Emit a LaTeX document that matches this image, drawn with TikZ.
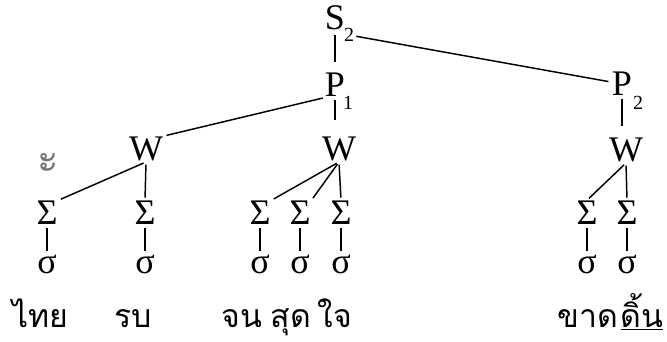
\documentclass[tikz,border=0pt]{standalone}
\usepackage{fontspec}
\setmainfont{Liberation Serif}
\newfontfamily\thaifont[Script=Thai]{Loma}
\usetikzlibrary{positioning}
\tikzset{
  tree label/.style={font=\fontsize{27}{29}\selectfont,inner sep=0.5pt},
  tree index/.style={font=\fontsize{15}{16}\selectfont,inner sep=0.5pt},
  thai word/.style={font=\thaifont\fontsize{24}{26}\selectfont,inner sep=0pt,anchor=base},
  tree link/.style={line width=1.1pt,shorten >=2pt,shorten <=2pt}
}

\begin{document}
\begin{tikzpicture}[x=0.75pt,y=-0.75pt]
  \useasboundingbox (0,0) rectangle (667,342);
  % prosodic levels
  \node[tree label] (S2) at (335,18) {S};
  \node[tree index] (S2idx) at (349,35) {2};
  \node[tree label] (P1) at (335,85) {P};
  \node[tree index] (P1idx) at (348,103) {1};
  \node[tree label] (P2) at (622,84) {P};
  \node[tree index] (P2idx) at (638,103) {2};
  \node[tree label] (W1) at (146,149) {W};
  \node[tree label] (W2) at (339,149) {W};
  \node[tree label] (W3) at (626,150) {W};
  \node[font=\thaifont\fontsize{30}{32}\selectfont,text=black!55] (mark) at (48,163) {ะ};
  \foreach \i/\x in {1/47,2/145,3/260,4/300,5/341,6/587,7/627}{
    \node[tree label] (sig\i) at (\x,213) {Σ};
    \node[tree label] (syl\i) at (\x,264) {σ};
    \draw[tree link] (sig\i) -- (syl\i);
  }
  % words
  \foreach \i/\x/\word in {1/40/ไทย,2/133/รบ,3/242/จน,4/291/สุด,5/335/ใจ,6/588/ขาด}{
    \node[thai word] (word\i) at (\x,327) {\word};
  }
  \node[thai word] (word7) at (642,327) {\underline{ดิ้น}};
  % links
  \draw[tree link,shorten <=3pt,shorten >=8pt] (S2) -- (P1);
  \draw[tree link,shorten <=1pt] (S2idx) -- (P2);
  \draw[tree link,shorten <=1pt] (P1.south west) -- (W1.north east);
  \draw[tree link,shorten >=12pt] (P1.south) -- (P1.south |- W2.north);
  \draw[tree link,shorten >=8pt] (P2.south) -- (P2.south |- W3.north);
  \draw[tree link] (W1.south) -- (sig1.north east);
  \draw[tree link] (W1.south) -- (sig2.north);
  \draw[tree link] (W2.south) -- (sig3.north east);
  \draw[tree link] (W2.south) -- (sig4.north east);
  \draw[tree link] (W2.south) -- (sig5.north);
  \draw[tree link] (W3.south) -- (sig6.north);
  \draw[tree link] (W3.south) -- (sig7.north);
\end{tikzpicture}
\end{document}
